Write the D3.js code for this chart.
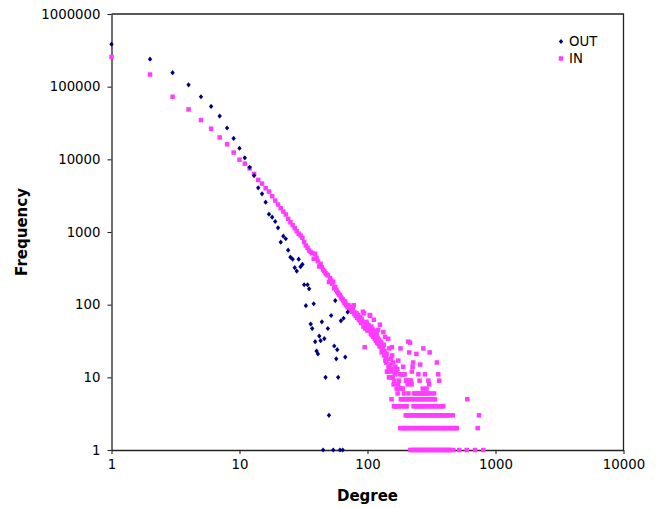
<!DOCTYPE html>
<html><head><meta charset="utf-8">
<script src="https://cdn.jsdelivr.net/npm/d3@7"></script>
<style>
body{margin:0;background:#fff;}
svg{display:block;}
text{font-family:"DejaVu Sans",Verdana,sans-serif;fill:#000;}
</style>
</head><body>
<svg id="chart" width="659" height="508"></svg>
<script>
// ---------- data ----------
const xTicks = [1, 10, 100, 1000, 10000];
const yTicks = [1, 10, 100, 1000, 10000, 100000, 1000000];
const seriesNames = ["OUT", "IN"];

// OUT degree distribution
const outDegree = [1,2,3,4,5,6,7,8,9,10,11,12,13,14,15,16,17,18,19,20,
  21,22,23,24,25,26,27,28,29,30,31,32,33,34,35,36,37,38,39,40,
  41,42,43,44,45,46,47,49,50,52,54,55,56,57,58,59,61,62,64,65,67,70];
const outFreq = [384000,239000,156000,106000,72600,53400,39400,27000,19400,14200,
  10500,7760,5970,4050,3350,2570,1757,1600,1394,1142,
  725,876,807,563,451,423,323,290,423,333,358,188,97,188,165,54,47,103,31,23,
  21,37,32,58,1,34,10,47,3,71,1,27,114,18,24,10,1,60,1,65,19,79];

// IN degree distribution, degrees 1..200 (degree = position + 1)
const inFreqHead = [257000,147000,72600,48600,34700,26400,20000,16100,12400,9900,
  8730,7520,6300,5210,4630,4000,3600,3100,2710,2390,
  2120,1913,1740,1518,1364,1241,1128,1026,945,896,
  832,725,653,607,557,530,512,429,502,440,
  394,336,366,330,303,290,272,260,253,205,
  232,214,195,207,168,176,160,151,145,138,
  135,126,121,118,112,105,110,100,96,92,
  98,88,93,86,84,80,90,98,74,78,
  70,76,66,72,65,62,68,60,56,64,
  58,80,50,76,26,47,54,58,55,44,
  45,52,48,72,70,40,50,38,46,42,
  36,62,39,34,44,32,37,40,30,35,
  45,29,33,27,53,31,26,30,22,24,
  28,25,42,28,20,23,36,17,19,16,
  21,12,18,12,34,14,10,25,13,10,
  15,12,18,5,26,20,10,13,16,8,
  4,9,11,4,14,12,4,12,7,4,
  13,6,8,17,7,9,4,11,7,2,
  25,5,4,7,11,2,5,11,7,14,
  5,2,6,4,11,2,4,5,3,9];

// IN tail, degrees above 200
const inTailDegree = [
  216,223,230,238,246,254,262,271,280,290,300,310,321,332,343,355,367,380,393,406,420,434,441,468,521,596,692,803,
  203,210,218,226,233,245,253,261,269,278,287,297,307,318,329,340,352,364,376,389,402,410,428,443,458,474,490,498,726,
  205,213,220,228,236,243,251,259,267,276,285,294,304,314,324,335,346,358,370,383,396,409,422,436,464,743,
  202,229,237,244,252,260,268,277,284,301,311,322,333,344,356,368,379,391,
  204,211,217,224,232,240,248,256,265,274,283,292,302,313,325,337,602,
  209,231,239,247,257,266,275,286,296,308,331,
  270,289,
  206,221,303,
  201,207,214,219,255,299,363,
  250,281,357,
  222,225,227,348,258,241,212,306,273,215,208];
const inTailFreq = [
  1,1,1,1,1,1,1,1,1,1,1,1,1,1,1,1,1,1,1,1,1,1,1,1,1,1,1,1,
  2,2,2,2,2,2,2,2,2,2,2,2,2,2,2,2,2,2,2,2,2,2,2,2,2,2,2,2,2,
  3,3,3,3,3,3,3,3,3,3,3,3,3,3,3,3,3,3,3,3,3,3,3,3,3,3,
  4,4,4,4,4,4,4,4,4,4,4,4,4,4,4,4,4,4,
  5,5,5,5,5,5,5,5,5,5,5,5,5,5,5,5,5,
  6,6,6,6,6,6,6,6,6,6,6,
  7,7,
  8,8,8,
  9,9,9,9,9,9,9,
  11,11,11,
  12,14,16,16,15,21,22,22,25,30,31];

// ---------- build ----------
const outPoints = outDegree.map((d, i) => ({d: d, f: outFreq[i]}));
const inPoints = inFreqHead.map((f, i) => ({d: i + 1, f: f}))
  .concat(inTailDegree.map((d, i) => ({d: d, f: inTailFreq[i]})));

const M = {left: 111.5, right: 623.5, top: 14, bottom: 450};
const svg = d3.select("#chart");

const x = d3.scaleLog().domain([1, 10000]).range([M.left, M.right]);
const y = d3.scaleLog().domain([1, 1000000]).range([M.bottom, M.top]);

const axisColor = "#222";

// frame (top and right)
svg.append("path")
  .attr("d", `M${M.left},${M.top}H${M.right}V${M.bottom}`)
  .attr("fill", "none").attr("stroke", axisColor).attr("stroke-width", 1.3);

const xAxis = svg.append("g").attr("transform", `translate(0,${M.bottom})`)
  .call(d3.axisBottom(x).tickValues(xTicks).tickFormat(d3.format("d")).tickSize(4).tickSizeOuter(0).tickPadding(6));
const yAxis = svg.append("g").attr("transform", `translate(${M.left},0)`)
  .call(d3.axisLeft(y).tickValues(yTicks).tickFormat(d3.format("d")).tickSize(4).tickSizeOuter(0).tickPadding(7));

[xAxis, yAxis].forEach(g => {
  g.select(".domain").attr("stroke", axisColor).attr("stroke-width", 1.3);
  g.selectAll(".tick line").attr("stroke", axisColor).attr("stroke-width", 1.1);
  g.selectAll(".tick text").attr("font-size", "13.3px").attr("fill", "#000")
    .attr("font-family", '"DejaVu Sans",Verdana,sans-serif');
});

// series
const inColor = "#ff3cff", outColor = "#000080";
const sq = 4.5;
svg.append("g").selectAll("rect").data(inPoints).join("rect")
  .attr("x", p => x(p.d) - sq / 2).attr("y", p => y(p.f) - sq / 2)
  .attr("width", sq).attr("height", sq).attr("fill", inColor);

const diamond = (cx, cy) => `M${cx},${cy - 2.6}L${cx + 2.2},${cy}L${cx},${cy + 2.6}L${cx - 2.2},${cy}Z`;
svg.append("g").selectAll("path").data(outPoints).join("path")
  .attr("d", p => diamond(x(p.d), y(p.f))).attr("fill", outColor);

// axis titles
svg.append("text").attr("x", (M.left + M.right) / 2).attr("y", 501)
  .attr("text-anchor", "middle").attr("font-weight", "bold").attr("font-size", "15px").text("Degree");
svg.append("text").attr("transform", `translate(27,${(M.top + M.bottom) / 2}) rotate(-90)`)
  .attr("text-anchor", "middle").attr("font-weight", "bold").attr("font-size", "15px").text("Frequency");

// legend
const lg = svg.append("g");
lg.append("path").attr("d", diamond(561, 41.5)).attr("fill", outColor);
lg.append("text").attr("x", 569).attr("y", 46.3).attr("font-size", "13.3px").text(seriesNames[0]);
lg.append("rect").attr("x", 561 - sq / 2).attr("y", 58.5 - sq / 2).attr("width", sq).attr("height", sq).attr("fill", inColor);
lg.append("text").attr("x", 569).attr("y", 63.3).attr("font-size", "13.3px").text(seriesNames[1]);
</script>
</body></html>
